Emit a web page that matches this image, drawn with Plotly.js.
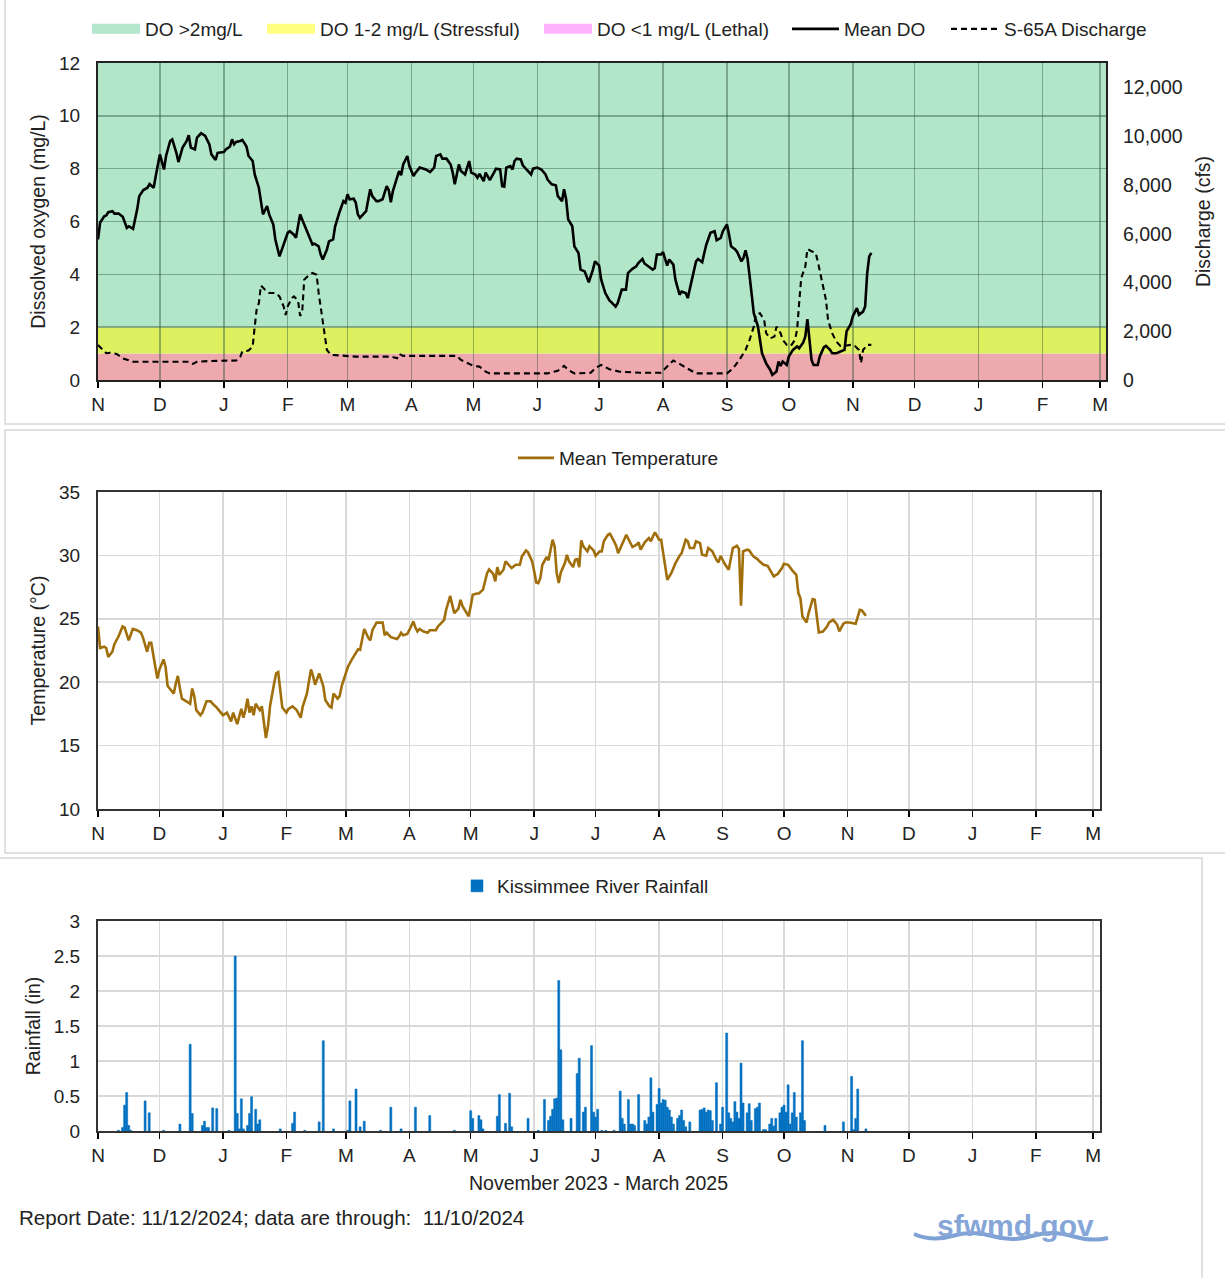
<!DOCTYPE html>
<html>
<head>
<meta charset="utf-8">
<script src="https://cdn.plot.ly/plotly-3.0.1.min.js"></script>
<style>html,body{margin:0;padding:0;background:#fff;}#chart{width:1225px;height:1278px;}</style>
</head>
<body>
<div id="chart"></div>
<script>
// ---------------- DATA (day offsets since 2023-11-01) ----------------
const startDate = '2023-11-01';
const monthTicks = ['2023-11-01','2023-12-01','2024-01-01','2024-02-01','2024-03-01','2024-04-01','2024-05-01','2024-06-01','2024-07-01','2024-08-01','2024-09-01','2024-10-01','2024-11-01','2024-12-01','2025-01-01','2025-02-01','2025-03-01'];
const monthLabels = ['N','D','J','F','M','A','M','J','J','A','S','O','N','D','J','F','M'];

const doBands = [0, 1, 2, 12];          // lethal / stressful / ok thresholds (mg/L)
const bandNames = ['DO <1 mg/L (Lethal)', 'DO 1-2 mg/L (Stressful)', 'DO >2mg/L'];

const doDay = [0,1,3,4,5,7,8,10,12,13,
14,15,17,19,20,22,24,25,27,28,
29,30,32,33,35,36,38,39,41,43,
44,45,47,48,50,52,54,55,57,58,
61,62,64,65,66,67,69,70,72,73,
75,76,78,79,80,82,83,85,86,88,
90,92,93,95,96,98,99,101,103,104,
105,107,108,109,111,112,114,115,117,119,
120,121,122,124,125,126,127,129,130,132,
133,135,136,138,140,141,142,143,145,146,
147,148,150,151,153,154,156,158,159,161,
163,164,166,167,169,171,172,173,175,176,
178,180,181,183,184,185,187,188,189,190,
192,193,195,196,197,198,200,201,202,203,
205,206,208,210,211,213,215,217,218,220,
222,223,225,226,227,228,230,231,233,234,
236,238,240,241,243,244,246,248,249,251,
252,254,256,257,259,261,262,264,265,267,
269,270,271,273,274,276,277,279,280,282,
283,285,286,288,290,291,293,294,295,297,
299,300,302,303,305,306,307,309,310,312,
313,314,315,316,317,318,320,321,322,324,
326,327,329,330,331,332,334,335,337,339,
340,342,343,344,345,346,347,349,350,352,
353,355,356,358,360,362,363,365,366,368,
369,371,372,373,374,375];
const doVal = [5.32,5.95,6.2,6.23,6.35,6.39,6.3,6.3,6.18,6.0,
5.76,5.82,5.72,6.46,6.96,7.19,7.28,7.42,7.28,7.72,
8.1,8.54,7.97,8.48,9.05,9.11,8.6,8.25,8.8,9.05,
9.27,8.8,8.73,9.18,9.34,9.24,8.92,8.54,8.33,8.6,
8.63,8.73,8.84,9.11,8.92,9.01,9.05,9.09,8.84,8.48,
8.29,7.78,7.28,6.71,6.27,6.58,6.27,5.89,5.32,4.68,
5.13,5.57,5.63,5.5,5.38,6.27,6.08,5.7,5.38,5.13,
5.16,5.06,4.75,4.56,4.94,5.25,5.32,5.82,6.33,6.77,
6.71,7.03,6.84,6.86,6.71,6.27,6.14,6.33,6.39,7.22,
6.96,6.77,6.77,6.84,7.34,7.19,6.73,7.15,7.66,7.91,
7.75,8.16,8.48,8.1,7.72,7.85,8.04,8.0,7.97,7.87,
8.04,8.48,8.54,8.38,8.38,8.16,7.85,7.41,8.16,7.91,
7.78,8.29,7.85,7.78,7.66,7.8,7.53,7.85,7.7,7.57,
7.85,8.0,7.97,7.34,7.32,8.04,8.1,7.97,8.29,8.38,
8.35,8.13,7.95,7.78,8.0,8.04,7.97,7.78,7.59,7.41,
7.37,6.96,6.77,7.22,6.84,6.08,5.82,5.06,4.81,4.18,
4.11,3.7,4.18,4.49,4.33,3.8,3.29,3.01,2.94,2.78,
2.91,3.42,3.42,4.05,4.2,4.3,4.43,4.58,4.41,4.28,
4.18,4.24,4.75,4.75,4.84,4.33,4.56,4.37,3.8,3.23,
3.35,3.29,3.1,3.8,4.49,4.58,4.46,4.81,5.13,5.57,
5.63,5.29,5.38,5.63,5.89,5.51,5.06,4.94,4.84,4.49,
4.62,4.91,4.58,3.92,3.29,2.53,2.03,1.52,1.01,0.63,
0.38,0.19,0.32,0.7,0.53,0.7,0.57,0.89,1.14,1.27,
1.2,1.42,1.65,2.3,1.52,0.76,0.57,0.57,0.89,1.24,
1.29,1.14,1.01,1.01,1.08,1.14,1.84,2.11,2.41,2.72,
2.47,2.59,2.78,4.05,4.68,4.81];

const qDay = [0,2,4,6,9,12,17,22,28,35,
44,46,48,54,61,67,69,70,73,75,
76,77,78,79,81,83,86,88,90,91,
92,94,95,97,98,99,100,102,104,106,
107,109,110,111,113,117,120,125,134,142,
145,146,148,158,166,174,176,179,182,185,
188,190,202,218,223,226,228,231,239,241,
244,248,253,263,273,276,279,282,286,290,
299,305,308,311,314,316,318,319,321,323,
324,326,328,329,331,332,334,336,338,339,
340,341,343,344,346,348,349,351,353,354,
356,358,360,362,365,367,369,370,371,373,
375];
const qVal = [1440,1260,1100,1120,1070,890,750,750,750,750,
750,660,750,780,800,800,960,1170,1210,1370,
2190,2950,3150,3870,3700,3570,3570,3430,3020,2670,
3020,3360,3430,3260,2630,2770,4110,4280,4390,4320,
3570,2470,1780,1230,1030,990,990,960,960,960,
890,1070,990,990,990,990,820,690,580,550,
340,270,270,270,380,580,410,270,300,480,
620,440,340,300,300,550,800,660,480,270,
270,270,480,820,1230,1650,2190,2670,2740,2470,
1920,1710,1780,2190,1920,1650,1440,1400,1650,2060,
3150,4180,4660,5370,5280,5210,4870,4110,3290,2470,
1920,1580,1400,1400,1440,1400,1230,690,1230,1440,
1440];

const tDay = [0,1,3,4,5,7,8,10,12,13,
15,17,19,21,22,24,25,26,28,29,
30,32,33,34,35,37,38,39,40,41,
43,45,46,47,48,50,51,53,55,56,
58,60,61,63,64,65,66,68,69,70,
71,72,73,74,75,76,77,79,80,81,
82,83,84,86,87,88,89,90,92,93,
95,97,99,100,102,104,105,106,108,110,
111,113,114,115,117,118,119,121,122,124,
126,127,128,129,130,132,133,134,136,137,
139,140,141,143,144,146,147,148,149,151,
152,154,155,156,157,159,161,162,164,165,
166,168,169,170,172,173,174,176,177,178,
181,182,183,185,186,188,190,191,193,194,
195,196,198,199,201,202,204,206,207,209,
210,212,213,214,215,216,217,219,220,221,
222,223,224,225,226,228,229,230,232,233,
234,235,236,237,239,240,242,243,245,246,
247,249,250,252,253,254,256,258,259,261,
263,264,265,267,269,270,271,272,274,275,
276,277,278,280,281,282,284,285,287,288,
289,291,292,294,295,297,298,300,302,303,
304,306,308,309,310,312,313,314,315,317,
318,320,322,323,325,327,328,330,332,334,
335,337,339,341,342,343,344,346,347,349,
350,351,352,354,356,357,359,361,362,364,
365,367,369,370,372,373,374,375];
const tVal = [24.4,22.7,22.8,22.7,22.0,22.4,23.0,23.6,24.4,24.3,
23.3,24.2,24.1,23.9,23.5,22.4,23.1,23.1,21.2,20.3,
21.0,21.8,21.2,19.7,19.5,19.1,19.9,20.5,19.5,18.7,
18.5,18.3,19.5,18.9,17.8,17.4,17.6,18.5,18.5,18.3,
18.0,17.6,17.4,17.6,17.2,16.9,17.6,16.7,17.3,17.9,
17.2,17.8,18.7,17.6,18.1,17.4,18.3,17.8,18.1,16.6,
15.6,16.5,18.1,19.9,20.7,20.8,19.4,18.0,17.6,17.9,
18.1,17.8,17.2,18.1,19.1,21.0,20.5,19.8,20.7,19.7,
18.6,18.1,18.0,19.1,18.7,18.9,19.7,20.8,21.2,21.8,
22.3,22.6,22.55,23.5,24.2,23.5,23.3,24.1,24.7,24.7,
24.7,23.7,23.9,23.55,23.5,23.4,23.6,23.9,23.7,23.8,
24.1,24.8,24.3,24.0,24.2,24.0,23.9,24.1,24.1,24.1,
24.4,24.7,24.9,25.7,26.8,26.1,25.45,25.8,26.5,26.0,
25.2,26.0,26.9,27.0,27.0,27.3,28.6,28.9,28.55,27.95,
29.08,28.47,28.87,29.53,29.18,29.0,29.26,29.26,29.92,30.39,
30.24,29.53,28.74,27.87,27.82,28.21,29.26,29.87,29.61,30.58,
31.24,30.71,28.61,27.82,28.66,29.39,30.05,29.53,29.08,29.66,
29.71,29.08,31.18,30.71,30.32,30.71,30.39,29.97,30.32,30.32,
31.11,31.63,31.71,31.11,30.76,30.18,30.97,31.63,31.29,30.66,
30.84,31.03,30.45,31.03,31.37,31.11,31.5,31.82,31.24,31.24,
30.18,29.13,28.08,28.61,29.0,29.39,29.97,30.18,31.24,31.11,
30.58,30.58,31.11,30.97,30.05,29.97,30.58,30.32,29.66,29.45,
29.97,29.34,28.87,29.79,30.58,30.76,30.5,26.03,30.32,30.45,
30.39,29.92,29.71,29.53,29.26,29.18,28.92,28.34,28.55,29.0,
29.34,29.26,28.82,28.47,27.03,26.63,25.18,24.71,25.45,26.55,
26.5,24.92,23.92,24.0,24.39,24.71,24.92,24.53,24.0,24.61,
24.71,24.71,24.61,24.61,25.71,25.66,25.45,25.24];

const rainDay = [10,12,13,14,15,16,23,25,32,40,
45,46,51,52,53,54,56,58,64,67,
68,69,70,71,73,74,75,77,78,79,
89,95,96,101,108,110,115,122,123,126,
128,130,138,143,148,155,162,174,182,183,
186,187,188,195,196,199,201,202,210,215,
218,220,221,222,223,224,225,226,227,231,
234,235,237,238,241,242,243,244,246,248,
252,255,256,257,259,260,261,262,264,267,
268,269,270,271,273,274,275,276,277,278,
279,280,281,283,284,285,286,287,289,294,
295,296,297,298,299,300,302,304,305,307,
308,309,310,311,312,313,314,315,317,318,
319,321,322,323,325,326,328,329,330,331,
333,334,335,336,337,338,339,340,341,343,
344,345,355,364,368,369,370,371,375];
const rainVal = [0.01,0.05,0.37,0.55,0.08,0.01,0.43,0.26,0.01,0.1,
1.24,0.25,0.08,0.14,0.05,0.05,0.33,0.32,0.01,2.5,
0.25,0.03,0.46,0.03,0.08,0.25,0.49,0.31,0.1,0.16,
0.03,0.11,0.27,0.01,0.13,1.29,0.03,0.01,0.43,0.6,
0.06,0.14,0.01,0.34,0.03,0.34,0.22,0.01,0.29,0.18,
0.22,0.16,0.03,0.21,0.52,0.11,0.54,0.06,0.18,0.01,
0.45,0.15,0.21,0.31,0.46,0.47,2.15,1.16,0.16,0.18,
0.82,1.04,0.27,0.34,1.22,0.27,0.2,0.31,0.01,0.01,
0.01,0.57,0.18,0.1,0.45,0.1,0.1,0.08,0.52,0.15,
0.1,0.2,0.76,0.27,0.38,0.61,0.4,0.45,0.44,0.34,
0.3,0.2,0.1,0.18,0.22,0.3,0.15,0.06,0.13,0.3,
0.31,0.33,0.27,0.3,0.29,0.15,0.69,0.1,0.34,1.4,
0.26,0.18,0.13,0.42,0.27,0.18,0.97,0.4,0.26,0.39,
0.15,0.32,0.34,0.4,0.02,0.02,0.1,0.18,0.07,0.18,
0.26,0.34,0.37,0.27,0.66,0.1,0.26,0.55,0.2,0.26,
1.29,0.15,0.08,0.13,0.78,0.02,0.18,0.6,0.03];

// ---------------- helpers ----------------
const W = 1225, H = 1278;
const px = x => x / W;
const py = y => 1 - y / H;
const DAY = 86400000;
const t0 = Date.parse(startDate + 'T00:00:00Z');
const toDate = d => new Date(t0 + d * DAY).toISOString().replace('T', ' ').slice(0, 19);
const FONT = 'Liberation Sans, Arial, sans-serif';
const TXT = '#222222';

// ---------------- traces ----------------
const legendColors = ['#FFB3FF', '#FFFF80', '#B3E6CA'];
const bandColors = ['#EDA9AE', '#DCF060', '#B2E6C9'];

const traces = [];
// legend entries for bands (order: >2, 1-2, <1)
[2, 1, 0].forEach((i, k) => {
  traces.push({
    type: 'scatter', x: [null], y: [null], mode: 'lines',
    line: { color: legendColors[i], width: 10 }, showlegend: true,
    name: bandNames[i], xaxis: 'x', yaxis: 'y',
    legend: ['legend', 'legend2', 'legend3'][k], hoverinfo: 'skip'
  });
});
traces.push({
  type: 'scatter', mode: 'lines', name: 'S-65A Discharge', showlegend: true,
  x: qDay.map(toDate), y: qVal, xaxis: 'x', yaxis: 'y2',
  line: { color: '#000', width: 2.1, dash: '6px,4px' }, legend: 'legend5'
});
traces.push({
  type: 'scatter', mode: 'lines', name: 'Mean DO', showlegend: true,
  x: doDay.map(toDate), y: doVal, xaxis: 'x', yaxis: 'y',
  line: { color: '#000', width: 2.6 }, legend: 'legend4'
});
traces.push({
  type: 'scatter', mode: 'lines', name: 'Mean Temperature', showlegend: true,
  x: tDay.map(toDate), y: tVal, xaxis: 'x2', yaxis: 'y3',
  line: { color: '#A06E0A', width: 2.6 }, legend: 'legend6'
});
traces.push({
  type: 'bar', name: 'Kissimmee River Rainfall', showlegend: true,
  x: rainDay.map(toDate), y: rainVal, xaxis: 'x3', yaxis: 'y4',
  width: 1.0 * DAY, marker: { color: '#0070C0', line: { width: 0.5, color: '#0070C0' } }, legend: 'legend7'
});

// ---------------- layout ----------------
const tickFont = { family: FONT, size: 19, color: TXT };
const titleFont = { family: FONT, size: 19.5, color: TXT };
const xCommon = {
  type: 'date', tickmode: 'array', tickvals: monthTicks, ticktext: monthLabels,
  ticks: 'outside', ticklen: 6, tickwidth: 1.5, tickcolor: '#000',
  showline: true, linewidth: 2, mirror: true, tickfont: tickFont,
  showgrid: true, gridwidth: 1.5, zeroline: false, fixedrange: true
};
const yCommon = {
  ticks: '', showline: true, linewidth: 2, mirror: true, tickfont: tickFont,
  showgrid: true, gridwidth: 1.5, zeroline: false, ticklabelstandoff: 12, fixedrange: true
};

const legendBase = (x, y, w) => ({
  x: px(x), y: py(y), xanchor: 'left', yanchor: 'middle', orientation: 'h',
  font: { family: FONT, size: 19, color: TXT }, bgcolor: 'rgba(0,0,0,0)',
  itemwidth: w, borderwidth: 0, itemclick: false, itemdoubleclick: false
});

const shapes = [];
for (let i = 0; i < 3; i++) {
  shapes.push({
    type: 'rect', xref: 'x domain', yref: 'y', x0: 0, x1: 1,
    y0: doBands[i], y1: doBands[i + 1], fillcolor: bandColors[i],
    line: { width: 0 }, layer: 'below'
  });
}
// panel frames
const frame = (x0, y0, x1, y1) => ({
  type: 'rect', xref: 'paper', yref: 'paper', x0: px(x0), x1: px(x1), y0: py(y1), y1: py(y0),
  line: { color: '#D6D6D6', width: 1.5 }, fillcolor: 'rgba(0,0,0,0)', layer: 'below'
});
shapes.push(frame(5, -3, 1230, 424));
shapes.push(frame(5, 430, 1230, 853));
shapes.push(frame(-3, 858, 1202, 1283));
// logo wave
const P = (x, y) => px(x) + ',' + py(y);
shapes.push({
  type: 'path', xref: 'paper', yref: 'paper',
  path: 'M' + P(914, 1234) + ' Q' + P(932, 1242) + ' ' + P(952, 1236) + ' T' + P(992, 1236) + ' T' + P(1032, 1236) + ' T' + P(1072, 1236) + ' T' + P(1108, 1238),
  line: { color: '#7FA2D6', width: 4 }
});

const layout = {
  width: W, height: H, margin: { l: 0, r: 0, t: 0, b: 0 },
  paper_bgcolor: '#fff', plot_bgcolor: 'rgba(0,0,0,0)',
  font: { family: FONT, color: TXT },
  hovermode: false, showlegend: true,
  xaxis: Object.assign({}, xCommon, {
    domain: [px(98), px(1106)], anchor: 'y',
    range: [toDate(0), toDate(488.8)], gridcolor: 'rgba(40,80,60,0.42)', linecolor: '#222'
  }),
  yaxis: Object.assign({}, yCommon, {
    domain: [py(380), py(63)], range: [0, 12], dtick: 2, anchor: 'x',
    gridcolor: 'rgba(40,80,60,0.42)', linecolor: '#222',
    title: { text: 'Dissolved oxygen (mg/L)', font: titleFont, standoff: 8 }
  }),
  yaxis2: {
    overlaying: 'y', side: 'right', anchor: 'x', range: [0, 13000],
    tickmode: 'array', tickvals: [0, 2000, 4000, 6000, 8000, 10000, 12000], tickformat: ',',
    ticks: '', showgrid: false, zeroline: false, showline: false, tickfont: { family: FONT, size: 19.5, color: TXT },
    ticklabelstandoff: 16, fixedrange: true,
    title: { text: 'Discharge (cfs)', font: titleFont, standoff: 14 }
  },
  xaxis2: Object.assign({}, xCommon, {
    domain: [px(98), px(1100)], anchor: 'y3',
    range: [toDate(0), toDate(489.3)], gridcolor: '#D9D9D9', linecolor: '#333'
  }),
  yaxis3: Object.assign({}, yCommon, {
    domain: [py(809), py(492)], range: [10, 35], dtick: 5, anchor: 'x2',
    gridcolor: '#D9D9D9', linecolor: '#333',
    title: { text: 'Temperature (°C)', font: titleFont, standoff: 8 }
  }),
  xaxis3: Object.assign({}, xCommon, {
    domain: [px(98), px(1100)], anchor: 'y4',
    range: [toDate(0), toDate(489.3)], gridcolor: '#D9D9D9', linecolor: '#333'
  }),
  yaxis4: Object.assign({}, yCommon, {
    domain: [py(1131), py(921)], range: [0, 3], dtick: 0.5, anchor: 'x3',
    gridcolor: '#D9D9D9', linecolor: '#333',
    title: { text: 'Rainfall (in)', font: titleFont, standoff: 8 }
  }),
  bargap: 0,
  legend: legendBase(87, 29, 48),
  legend2: legendBase(262, 29, 48),
  legend3: legendBase(539, 29, 48),
  legend4: legendBase(787, 29, 47),
  legend5: legendBase(946, 29, 48),
  legend6: legendBase(513, 458, 36),
  legend7: legendBase(457, 886, 30),
  shapes: shapes,
  annotations: [
    { xref: 'paper', yref: 'paper', x: px(598), y: py(1183), text: 'November 2023 - March 2025',
      showarrow: false, xanchor: 'center', yanchor: 'middle', font: { family: FONT, size: 19.5, color: TXT } },
    { xref: 'paper', yref: 'paper', x: px(17), y: py(1217), text: 'Report Date: 11/12/2024; data are through:\u00a0 11/10/2024',
      showarrow: false, xanchor: 'left', yanchor: 'middle', font: { family: FONT, size: 20.6, color: TXT } },
    { xref: 'paper', yref: 'paper', x: px(1016), y: py(1225), text: '<b>sfwmd.gov</b>',
      showarrow: false, xanchor: 'center', yanchor: 'middle', font: { family: FONT, size: 30, color: '#86A6D8' } }
  ]
};

Plotly.newPlot('chart', traces, layout, { displayModeBar: false, staticPlot: true });
</script>
</body>
</html>
